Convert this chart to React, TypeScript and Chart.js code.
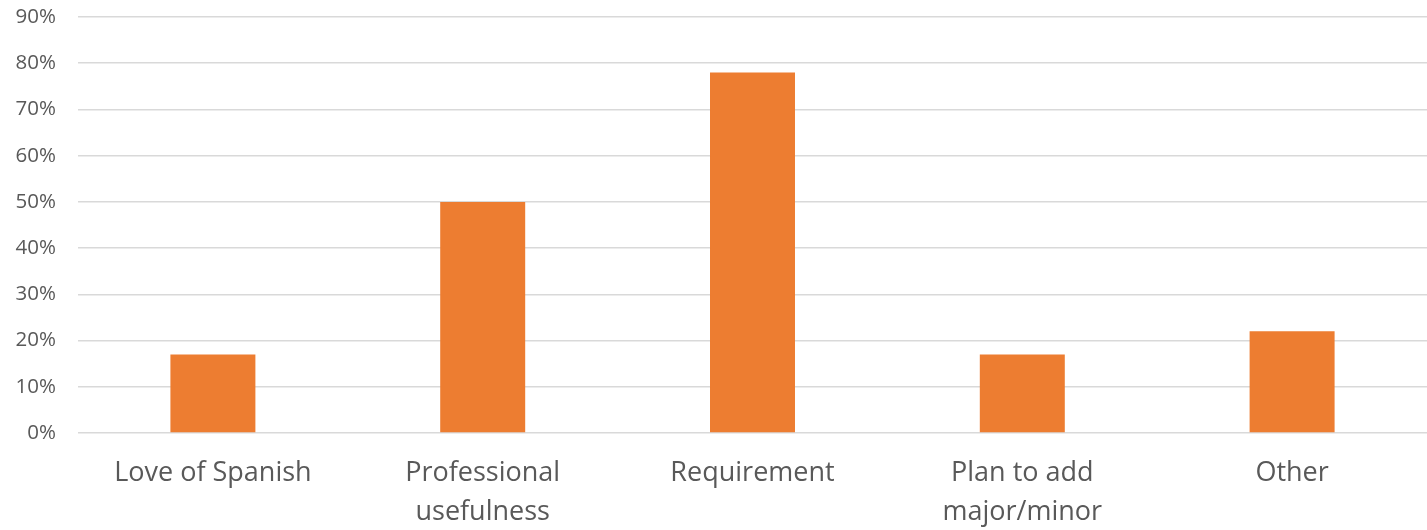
import React, { useEffect, useRef } from "react";
import { Chart, registerables } from "chart.js";

Chart.register(...registerables);

const categories: (string | string[])[] = [
  "Love of Spanish",
  ["Professional", "usefulness"],
  "Requirement",
  ["Plan to add", "major/minor"],
  "Other",
];
const values = [17, 50, 78, 17, 22];
const yMax = 90;
const yStep = 10;

export default function App() {
  const ref = useRef<HTMLCanvasElement | null>(null);
  useEffect(() => {
    document.body.style.margin = "0";
    const ctx = ref.current!;
    const chart = new Chart(ctx, {
      type: "bar",
      data: {
        labels: categories,
        datasets: [
          {
            data: values,
            backgroundColor: "#ED7D31",
            borderWidth: 0,
            categoryPercentage: 1,
            barPercentage: 0.315,
          },
        ],
      },
      options: {
        animation: false,
        responsive: false,
        maintainAspectRatio: false,
        layout: { padding: { top: 17, left: 0, right: 0, bottom: 0 } },
        plugins: { legend: { display: false }, tooltip: { enabled: false } },
        scales: {
          x: {
            grid: { display: false, drawTicks: false },
            border: { display: false },
            afterFit: (axis: any) => {
              axis.height = 97;
              axis.paddingLeft = 0;
              axis.paddingRight = 0;
            },
            ticks: {
              color: "#595959",
              font: { family: "Open Sans", size: 27, lineHeight: 1.44 },
              padding: 21,
              maxRotation: 0,
              autoSkip: false,
            },
          },
          y: {
            min: 0,
            max: yMax,
            grid: { color: "#D9D9D9", lineWidth: 1.5, drawTicks: false },
            border: { display: false },
            afterFit: (axis: any) => {
              axis.width = 78;
              axis.paddingTop = 0;
              axis.paddingBottom = 0;
            },
            ticks: {
              stepSize: yStep,
              color: "#595959",
              font: { family: "Open Sans", size: 20.5 },
              padding: 22,
              callback: (v: any) => v + "%",
            },
          },
        },
      },
    });
    return () => chart.destroy();
  }, []);
  return (
    <div style={{ width: 1427, height: 530 }}>
      <canvas ref={ref} width={1427} height={530} style={{ display: "block" }} />
    </div>
  );
}
